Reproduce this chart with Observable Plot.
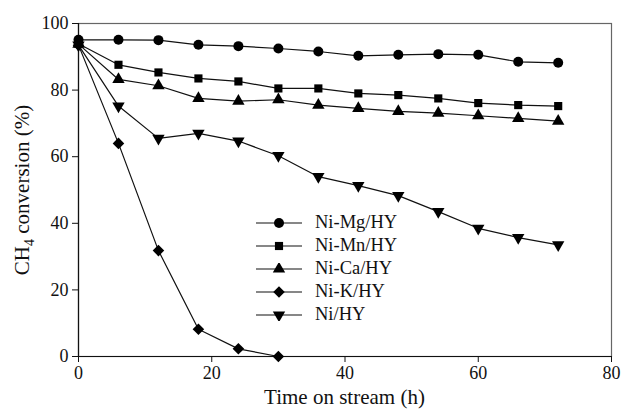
<!DOCTYPE html>
<html><head><meta charset="utf-8">
<script src="https://cdn.jsdelivr.net/npm/d3@7"></script>
<script src="https://cdn.jsdelivr.net/npm/@observablehq/plot@0.6"></script>
<style>
body{margin:0;background:#fff}
#chart{position:relative;width:621px;height:410px;font-family:"Liberation Serif","Times New Roman",serif;color:#111;overflow:hidden}
#chart svg{display:block}
#chart svg, #chart svg text, #chart svg g{font-family:"Liberation Serif","Times New Roman",serif !important}
.xlab{position:absolute;left:78px;width:533px;top:385px;line-height:24px;text-align:center;font-size:21px;white-space:nowrap}
.ylab{position:absolute;left:22px;top:190px;transform:translate(-50%,-50%) rotate(-90deg);font-size:21px;white-space:nowrap}
.ylab sub{font-size:14px;vertical-align:-5px;line-height:0}
#legend{position:absolute;left:255px;top:211px;font-size:18.5px}
#legend .row{display:flex;align-items:center;height:23px}
#legend svg{margin-right:12px}
</style></head><body><div id="chart"></div>
<script>
const hours = [0,6,12,18,24,30,36,42,48,54,60,66,72];
const niMg = [95.1,95.1,95.0,93.6,93.2,92.5,91.6,90.3,90.6,90.8,90.6,88.5,88.2];
const niMn = [93.9,87.6,85.3,83.5,82.6,80.5,80.5,79.0,78.5,77.5,76.1,75.5,75.2];
const niCa = [93.8,83.2,81.3,77.5,76.7,77.1,75.5,74.5,73.6,73.1,72.3,71.5,70.7];
const niKHours = [0,6,12,18,24,30];
const niK = [93.5,64.0,31.8,8.2,2.3,0];
const niHY = [93.5,75.2,65.5,67.0,64.7,60.3,54.0,51.3,48.3,43.5,38.5,35.7,33.5];
const seriesNames = ["Ni-Mg/HY","Ni-Mn/HY","Ni-Ca/HY","Ni-K/HY","Ni/HY"];
const xTicks = [0,20,40,60,80];
const yTicks = [0,20,40,60,80,100];

const sqrt3 = Math.sqrt(3);
const triangleDown = {draw(ctx, size){
  const y = -Math.sqrt(size / (sqrt3 * 3));
  ctx.moveTo(0, -y * 2);
  ctx.lineTo(-sqrt3 * y, y);
  ctx.lineTo(sqrt3 * y, y);
  ctx.closePath();
}};
const symbols = [d3.symbolCircle, d3.symbolSquare, d3.symbolTriangle, d3.symbolDiamond2, triangleDown];
const radii = [5, 4.6, 4.6, 5.2, 4.6];

const seriesData = [
  hours.map((h,i)=>({t:h, v:niMg[i]})),
  hours.map((h,i)=>({t:h, v:niMn[i]})),
  hours.map((h,i)=>({t:h, v:niCa[i]})),
  niKHours.map((h,i)=>({t:h, v:niK[i]})),
  hours.map((h,i)=>({t:h, v:niHY[i]}))
];

const serif = '"Liberation Serif","Times New Roman",serif';
const marks = [
  Plot.frame({stroke:"#666", strokeWidth:1.2}),
  Plot.ruleX([0], {stroke:"#111", strokeWidth:1.2}),
  Plot.ruleY([0], {stroke:"#111", strokeWidth:1.2}),
  Plot.axisX({ticks:xTicks, tickSize:6, tickPadding:4, label:null, fontSize:18, fontFamily:serif, tickFormat:d=>d}),
  Plot.axisY({ticks:yTicks, tickSize:6, tickPadding:4, label:null, fontSize:18, fontFamily:serif, tickFormat:d=>d})
];
seriesData.forEach((data, k) => {
  marks.push(Plot.line(data, {x:"t", y:"v", stroke:"#111", strokeWidth:1.2}));
  marks.push(Plot.dot(data, {x:"t", y:"v", symbol:symbols[k], r:radii[k], fill:"#000", stroke:"none"}));
});

const plot = Plot.plot({
  width:621, height:410,
  marginLeft:78, marginRight:10, marginTop:23, marginBottom:54,
  style:{fontFamily:serif, fontSize:"18px", color:"#111", background:"#fff", overflow:"visible"},
  x:{domain:[0,80]},
  y:{domain:[0,100]},
  marks
});
const chart = document.getElementById("chart");
chart.appendChild(plot);

const xl = document.createElement("div"); xl.className="xlab"; xl.textContent="Time on stream (h)"; chart.appendChild(xl);
const yl = document.createElement("div"); yl.className="ylab"; yl.innerHTML="CH<sub>4</sub> conversion (%)"; chart.appendChild(yl);

const legend = document.createElement("div"); legend.id="legend";
seriesNames.forEach((name,k)=>{
  const row = document.createElement("div"); row.className="row";
  const s = d3.create("svg").attr("width",48).attr("height",12);
  s.append("line").attr("x1",1).attr("x2",47).attr("y1",6).attr("y2",6).attr("stroke","#111").attr("stroke-width",1.2);
  s.append("path").attr("transform","translate(24,6)").attr("d", d3.symbol(symbols[k], Math.PI*radii[k]*radii[k])()).attr("fill","#000");
  row.appendChild(s.node());
  const t = document.createElement("span"); t.textContent=name; row.appendChild(t);
  legend.appendChild(row);
});
chart.appendChild(legend);
</script></body></html>
